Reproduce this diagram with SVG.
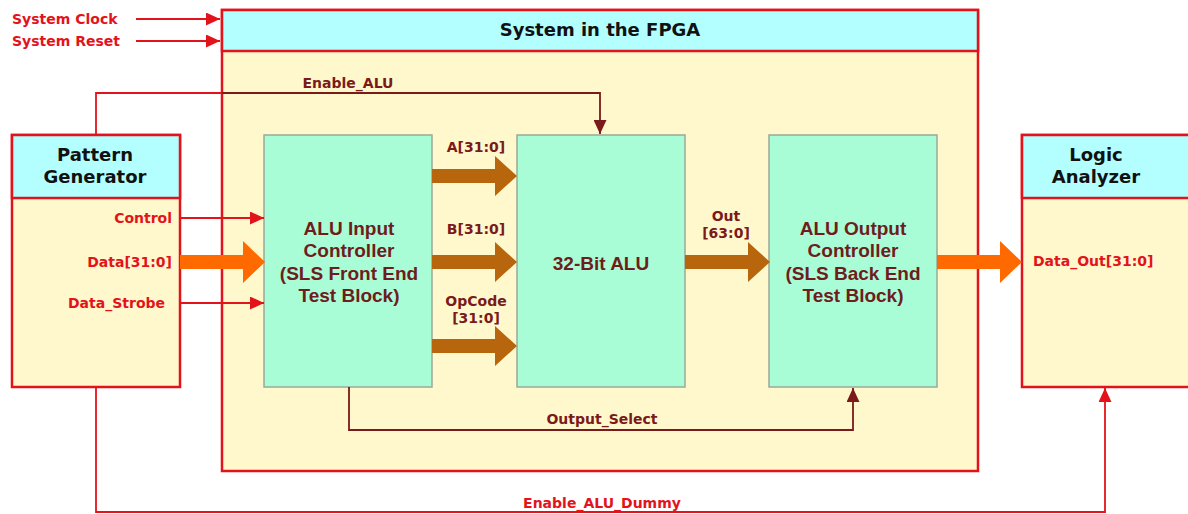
<svg xmlns="http://www.w3.org/2000/svg" width="1188" height="514" viewBox="0 0 1188 514">
<defs>
<style>
.hdr{fill:#b3ffff;stroke:#e3131b;stroke-width:2.5}
.body{fill:#fff8cc;stroke:#e3131b;stroke-width:2.5}
.blk{fill:#a9fdd6;stroke:#9aa898;stroke-width:1.5}
.ttl{font-family:"DejaVu Sans","Liberation Sans",sans-serif;font-weight:bold;font-size:18px;fill:#111;text-anchor:middle}
.red{font-family:"DejaVu Sans","Liberation Sans",sans-serif;font-weight:bold;font-size:14px;fill:#e3131b}
.dk{font-family:"DejaVu Sans","Liberation Sans",sans-serif;font-weight:bold;font-size:14px;fill:#7a1a1a;text-anchor:middle}
.bt{font-family:"Liberation Sans",Arial,sans-serif;font-weight:bold;font-size:19px;fill:#6e1c1c;text-anchor:middle}
.rl{fill:none;stroke:#e3131b;stroke-width:1.8}
.dl{fill:none;stroke:#7a1a1a;stroke-width:1.8}
.brown{fill:#b8660e}
.orange{fill:#ff6a00}
</style>
<marker id="ar" viewBox="0 0 14 13" refX="14" refY="6.5" markerWidth="14" markerHeight="13" markerUnits="userSpaceOnUse" orient="auto">
<path d="M0,0 L14,6.5 L0,13 Z" fill="#e3131b"/>
</marker>
<marker id="ad" viewBox="0 0 14 13" refX="14" refY="6.5" markerWidth="14" markerHeight="13" markerUnits="userSpaceOnUse" orient="auto">
<path d="M0,0 L14,6.5 L0,13 Z" fill="#7a1a1a"/>
</marker>
</defs>
<rect width="1188" height="514" fill="#ffffff"/>

<g id="fpga">
<rect class="body" x="222" y="10" width="756" height="461"/>
<rect class="hdr" x="222" y="10" width="756" height="41"/>
<text class="ttl" x="600" y="36">System in the FPGA</text>
</g>

<g id="pattern-generator">
<rect class="body" x="12" y="135" width="168" height="252"/>
<rect class="hdr" x="12" y="135" width="168" height="63"/>
<text class="ttl" x="95" y="161">Pattern</text>
<text class="ttl" x="95" y="183">Generator</text>
<text class="red" x="172" y="223" text-anchor="end">Control</text>
<text class="red" x="172" y="267" text-anchor="end">Data[31:0]</text>
<text class="red" x="68" y="308">Data_Strobe</text>
</g>

<g id="logic-analyzer">
<rect class="body" x="1022" y="135" width="170" height="252"/>
<rect class="hdr" x="1022" y="135" width="170" height="63"/>
<text class="ttl" x="1096" y="161">Logic</text>
<text class="ttl" x="1096" y="183">Analyzer</text>
<text class="red" x="1033" y="266">Data_Out[31:0]</text>
</g>

<g id="alu-input-controller">
<rect class="blk" x="264" y="135" width="168" height="252"/>
<text class="bt" x="349" y="235">ALU Input</text>
<text class="bt" x="349" y="257">Controller</text>
<text class="bt" x="349" y="280">(SLS Front End</text>
<text class="bt" x="349" y="302">Test Block)</text>
</g>

<g id="alu-32bit">
<rect class="blk" x="517" y="135" width="168" height="252"/>
<text class="bt" x="601" y="270">32-Bit ALU</text>
</g>

<g id="alu-output-controller">
<rect class="blk" x="769" y="135" width="168" height="252"/>
<text class="bt" x="853" y="235">ALU Output</text>
<text class="bt" x="853" y="257">Controller</text>
<text class="bt" x="853" y="280">(SLS Back End</text>
<text class="bt" x="853" y="302">Test Block)</text>
</g>

<g id="connectors">
<!-- system clock / reset -->
<line class="rl" x1="136" y1="19" x2="220" y2="19" marker-end="url(#ar)"/>
<line class="rl" x1="136" y1="41" x2="220" y2="41" marker-end="url(#ar)"/>
<text class="red" x="12" y="24">System Clock</text>
<text class="red" x="12" y="46">System Reset</text>

<!-- control / strobe -->
<line class="rl" x1="180" y1="218" x2="264" y2="218" marker-end="url(#ar)"/>
<line class="rl" x1="180" y1="303" x2="264" y2="303" marker-end="url(#ar)"/>

<!-- data buses -->
<polygon class="orange" points="180,255 243,255 243,241 265,262 243,283 243,269 180,269"/>
<polygon class="orange" points="937,255 1000,255 1000,241 1022,262 1000,283 1000,269 937,269"/>
<polygon class="brown" points="432,169 495,169 495,156 517,176 495,196 495,183 432,183"/>
<polygon class="brown" points="432,255 495,255 495,242 517,262 495,282 495,269 432,269"/>
<polygon class="brown" points="432,339 495,339 495,326 517,346 495,366 495,353 432,353"/>
<polygon class="brown" points="685,255 748,255 748,242 770,262 748,282 748,269 685,269"/>
<text class="dk" x="476" y="152">A[31:0]</text>
<text class="dk" x="476" y="234">B[31:0]</text>
<text class="dk" x="476" y="306">OpCode</text>
<text class="dk" x="476" y="323">[31:0]</text>
<text class="dk" x="726" y="221">Out</text>
<text class="dk" x="726" y="238">[63:0]</text>

<!-- Enable_ALU -->
<polyline class="rl" points="96,135 96,93 222,93"/>
<polyline class="dl" points="222,93 600,93 600,134" marker-end="url(#ad)"/>
<text class="dk" x="348" y="88">Enable_ALU</text>

<!-- Output_Select -->
<polyline class="dl" points="349,387 349,430 853,430 853,388" marker-end="url(#ad)"/>
<text class="dk" x="602" y="424">Output_Select</text>

<!-- Enable_ALU_Dummy -->
<polyline class="rl" points="96,387 96,512 1105,512 1105,388" marker-end="url(#ar)"/>
<text class="red" x="602" y="508" text-anchor="middle">Enable_ALU_Dummy</text>
</g>
</svg>
